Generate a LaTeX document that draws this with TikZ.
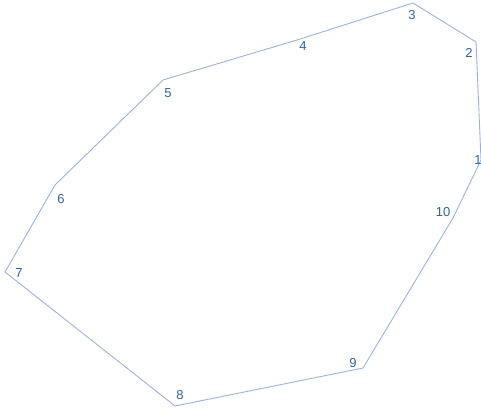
\documentclass[tikz,border=0pt]{standalone}
\usepackage{fontspec}
\setmainfont{Liberation Sans}
\definecolor{edgecol}{HTML}{9DB2D8}
\definecolor{labcol}{HTML}{35629A}
\begin{document}
\begin{tikzpicture}[x=1pt,y=-1pt,
  edge/.style={draw=edgecol,line width=0.9pt,line join=round},
  lab/.style={text=labcol,font=\fontsize{13}{13}\selectfont,inner sep=0pt}]
\useasboundingbox (0,0) rectangle (481,414);
\coordinate (v1) at (481,160);
\coordinate (v2) at (476,42);
\coordinate (v3) at (413,3);
\coordinate (v4) at (297,40);
\coordinate (v5) at (163,80);
\coordinate (v6) at (55,185);
\coordinate (v7) at (5,272);
\coordinate (v8) at (175,406);
\coordinate (v9) at (363,368);
\coordinate (v10) at (453,218);
\draw[edge] (v1) -- (v2) -- (v3) -- (v4) -- (v5) -- (v6) -- (v7) -- (v8) -- (v9) -- (v10) -- cycle;
\node[lab] (l1) at (478,160) {1};
\node[lab] (l2) at (469,53) {2};
\node[lab] (l3) at (412,15) {3};
\node[lab] (l4) at (303,46) {4};
\node[lab] (l5) at (168,93) {5};
\node[lab] (l6) at (61,199) {6};
\node[lab] (l7) at (19,273) {7};
\node[lab] (l8) at (180,395) {8};
\node[lab] (l9) at (353,363) {9};
\node[lab] (l10) at (443,212) {10};
\end{tikzpicture}
\end{document}
